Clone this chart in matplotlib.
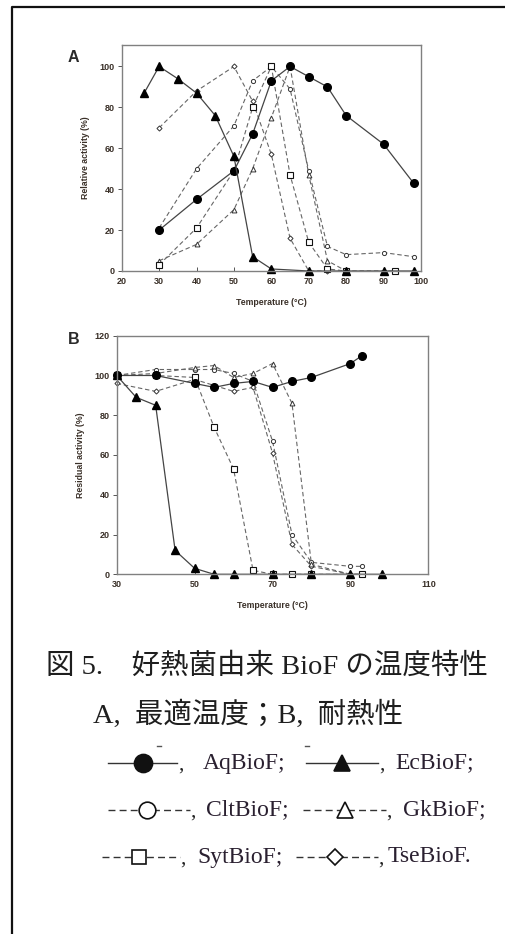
import matplotlib
matplotlib.use('Agg')
import matplotlib.pyplot as plt
from matplotlib.lines import Line2D

plt.rcParams['font.family'] = ['Liberation Sans', 'DejaVu Sans']
plt.rcParams['axes.unicode_minus'] = False

# panel A: optimum temperature (relative activity %)
a_aq_t = [30, 40, 50, 55, 60, 65, 70, 75, 80, 90, 98]
a_aq = [20, 35, 49, 67, 93, 100, 95, 90, 76, 62, 43]
a_ec_t = [26, 30, 35, 40, 45, 50, 55, 60, 70, 80, 90, 98]
a_ec = [87, 100, 94, 87, 76, 56, 7, 1, 0, 0, 0, 0]
a_clt_t = [30, 40, 50, 55, 60, 65, 70, 75, 80, 90, 98]
a_clt = [21, 50, 71, 93, 100, 89, 49, 12, 8, 9, 7]
a_gk_t = [30, 40, 50, 55, 60, 65, 70, 75, 80]
a_gk = [5, 13, 30, 50, 75, 100, 47, 5, 0]
a_syt_t = [30, 40, 50, 55, 60, 65, 70, 75, 80, 93]
a_syt = [3, 21, 49, 80, 100, 47, 14, 1, 0, 0]
a_tse_t = [30, 40, 50, 55, 60, 65, 70, 75]
a_tse = [70, 88, 100, 83, 57, 16, 0, 0]

# panel B: thermostability (residual activity %)
b_aq_t = [30, 40, 50, 55, 60, 65, 70, 75, 80, 90, 93]
b_aq = [100, 100, 96, 94, 96, 97, 94, 97, 99, 106, 110]
b_ec_t = [30, 35, 40, 45, 50, 55, 60, 70, 80, 90, 98]
b_ec = [100, 89, 85, 12, 3, 0, 0, 0, 0, 0, 0]
b_clt_t = [30, 40, 50, 55, 60, 65, 70, 75, 80, 90, 93]
b_clt = [100, 103, 103, 103, 101, 97, 67, 20, 6, 4, 4]
b_gk_t = [30, 40, 50, 55, 60, 65, 70, 75, 80, 90]
b_gk = [100, 101, 104, 105, 99, 101, 106, 86, 5, 0]
b_syt_t = [30, 40, 50, 55, 60, 65, 70, 75, 80, 93]
b_syt = [100, 100, 99, 74, 53, 2, 0, 0, 0, 0]
b_tse_t = [30, 40, 50, 60, 65, 70, 75, 80, 90, 93]
b_tse = [96, 92, 98, 92, 94, 61, 15, 4, 0, 0]

W, H = 505, 934
fig = plt.figure(figsize=(W / 100, H / 100), dpi=100)


def fx(px):
    return px / W


def fy(py):
    return 1 - py / H


# page frame (top and left edge only are visible)
fig.add_artist(Line2D([fx(12), fx(12), 1.0], [0.0, fy(7), fy(7)],
                      transform=fig.transFigure, color='#111111', lw=1.6))

styles = {
    'aq': dict(color='#444444', ls='-', lw=0.9, marker='o', ms=5.5,
               mfc='black', mec='black'),
    'ec': dict(color='#444444', ls='-', lw=0.9, marker='^', ms=5.5,
               mfc='black', mec='black'),
    'clt': dict(color='#666666', ls=(0, (4, 2.5)), lw=0.8, marker='o', ms=3,
                mfc='white', mec='#333333', mew=0.7),
    'gk': dict(color='#666666', ls=(0, (4, 2.5)), lw=0.8, marker='^', ms=3.5,
               mfc='white', mec='#333333', mew=0.7),
    'syt': dict(color='#666666', ls=(0, (4, 2.5)), lw=0.8, marker='s', ms=4,
                mfc='white', mec='#111111', mew=0.8),
    'tse': dict(color='#666666', ls=(0, (4, 2.5)), lw=0.8, marker='D', ms=2.6,
                mfc='white', mec='#333333', mew=0.7),
}

tick_col = '#3a3028'


def style_axes(ax, ylab):
    for s in ax.spines.values():
        s.set_color('#808080')
        s.set_linewidth(1.0)
    ax.tick_params(axis='y', direction='out', length=3, width=0.7,
                   color='#555555', labelsize=6.5, labelcolor=tick_col, pad=2)
    ax.tick_params(axis='x', direction='in', length=3, width=0.7,
                   color='#555555', labelsize=6.5, labelcolor=tick_col, pad=4)
    for lab in ax.get_xticklabels() + ax.get_yticklabels():
        lab.set_fontweight('bold')
    ax.set_xlabel('Temperature (°C)', fontsize=6.3, fontweight='bold',
                  color=tick_col, labelpad=9)
    ax.set_ylabel(ylab, fontsize=6.3, fontweight='bold', color=tick_col,
                  labelpad=7)


# panel A
axA = fig.add_axes([fx(121.7), fy(271), fx(421) - fx(121.7), (271 - 45) / H])
axA.plot(a_tse_t, a_tse, **styles['tse'])
axA.plot(a_clt_t, a_clt, **styles['clt'])
axA.plot(a_gk_t, a_gk, **styles['gk'])
axA.plot(a_syt_t, a_syt, **styles['syt'])
axA.plot(a_aq_t, a_aq, **styles['aq'])
axA.plot(a_ec_t, a_ec, **styles['ec'])
axA.set_xlim(20, 100)
axA.set_ylim(0, 110.5)
axA.set_xticks(range(20, 101, 10))
axA.set_yticks(range(0, 101, 20))
style_axes(axA, 'Relative activity (%)')
for p in (axA.lines):
    p.set_clip_on(False)

# panel B
axB = fig.add_axes([fx(116.7), fy(574.3), fx(428.3) - fx(116.7), (574.3 - 335.7) / H])
axB.plot(b_tse_t, b_tse, **styles['tse'])
axB.plot(b_clt_t, b_clt, **styles['clt'])
axB.plot(b_gk_t, b_gk, **styles['gk'])
axB.plot(b_syt_t, b_syt, **styles['syt'])
axB.plot(b_aq_t, b_aq, **styles['aq'])
axB.plot(b_ec_t, b_ec, **styles['ec'])
axB.set_xlim(30, 110)
axB.set_ylim(0, 120)
axB.set_xticks(range(30, 111, 20))
axB.set_yticks(range(0, 121, 20))
style_axes(axB, 'Residual activity (%)')
for p in (axB.lines):
    p.set_clip_on(False)

fig.text(fx(73), fy(57), 'A', fontsize=11.5, fontweight='bold',
         color='#2a2a2a', ha='center', va='center')
fig.text(fx(74), fy(340), 'B', fontsize=11.5, fontweight='bold',
         color='#2a2a2a', ha='center', va='center')

# caption
jp = ['Liberation Serif', 'Noto Sans CJK JP']
fig.text(fx(46), fy(667), '図 5.\u3000好熱菌由来 BioF の温度特性', family=jp,
         fontsize=20.5, color='#1e1e1e', ha='left', va='center')
fig.text(fx(93), fy(715), 'A,  最適温度；B,  耐熱性', family=jp,
         fontsize=20.5, color='#1e1e1e', ha='left', va='center')

# hand-drawn key below the caption
key_rows = [
    # x0, x1, marker x, y, solid?, marker, filled, comma x, label, label x
    (108, 177, 143, 763, True, 'o', True, 178, 'AqBioF;', 203),
    (306, 378, 342, 763, True, '^', True, 379, 'EcBioF;', 395),
    (108, 190, 147, 810, False, 'o', False, 190, 'CltBioF;', 206),
    (303, 386, 345, 810, False, '^', False, 386, 'GkBioF;', 403),
    (102, 180, 139, 857, False, 's', False, 180, 'SytBioF;', 197),
    (296, 378, 335, 857, False, 'D', False, 378, 'TseBioF.', 388),
]
msz = {'o': 13, '^': 12, 's': 11.5, 'D': 9.5}
for x0, x1, xm, y, solid, mk, filled, xc, lab, xl in key_rows:
    ls = '-' if solid else (0, (5, 3))
    fig.add_artist(Line2D([fx(x0), fx(x1)], [fy(y), fy(y)],
                          transform=fig.transFigure, color='#333333',
                          lw=1.0, ls=ls))
    m = msz[mk] if filled else msz[mk] - 1
    fig.add_artist(Line2D([fx(xm)], [fy(y)], transform=fig.transFigure,
                          marker=mk, ms=m, mfc='#111111' if filled else 'white',
                          mec='#111111', mew=1.2, ls='none'))
    fig.text(fx(xc), fy(y + 2), ',', family=jp, fontsize=15, color='#222222',
             ha='left', va='center')
    fig.text(fx(xl), fy(y), lab, family=jp, fontsize=17, color='#2a2030',
             ha='left', va='center')

# small stray marks above the first key row
for xs in (159, 307):
    fig.add_artist(Line2D([fx(xs - 2), fx(xs + 2)], [fy(746), fy(746)],
                          transform=fig.transFigure, color='#555555', lw=1.0))

fig.savefig('out.png', dpi=100)
